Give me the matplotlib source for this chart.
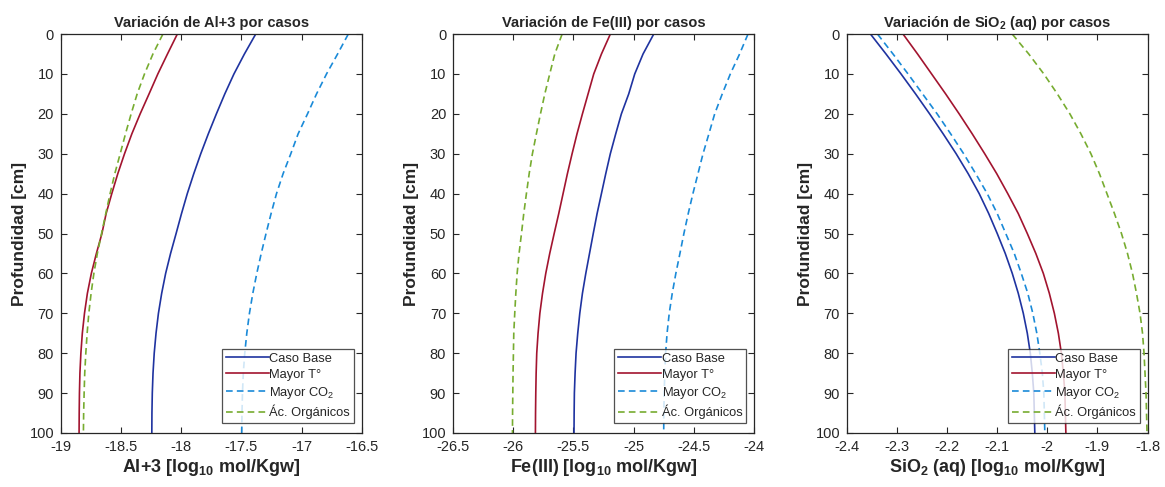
import numpy as np
import matplotlib
matplotlib.use('Agg')
import matplotlib.pyplot as plt

plt.rcParams['font.family'] = ['Liberation Sans', 'DejaVu Sans']
plt.rcParams['mathtext.default'] = 'regular'

# profundidad de muestreo [cm]
depth = [0, 5, 10, 15, 20, 25, 30, 35, 40, 45, 50, 55, 60, 65, 70, 75, 80, 85, 90, 95, 100]

# Al+3 [log10 mol/Kgw]
al_base = [-17.381, -17.475, -17.562, -17.638, -17.708, -17.775, -17.838, -17.896, -17.950, -17.998, -18.043,
           -18.089, -18.130, -18.163, -18.190, -18.210, -18.225, -18.235, -18.241, -18.244, -18.245]
al_temp = [-18.033, -18.115, -18.195, -18.268, -18.342, -18.411, -18.472, -18.528, -18.578, -18.625, -18.660,
           -18.706, -18.748, -18.781, -18.805, -18.823, -18.835, -18.843, -18.847, -18.849, -18.85]
al_co2 = [-16.611, -16.70, -16.792, -16.875, -16.95, -17.028, -17.089, -17.153, -17.208, -17.253, -17.295,
          -17.335, -17.372, -17.405, -17.433, -17.455, -17.472, -17.484, -17.491, -17.495, -17.497]
al_org = [-18.153, -18.236, -18.306, -18.367, -18.417, -18.464, -18.508, -18.553, -18.592, -18.628, -18.663,
          -18.698, -18.727, -18.750, -18.769, -18.783, -18.794, -18.803, -18.808, -18.812, -18.814]

# Fe(III) [log10 mol/Kgw]
fe_base = [-24.832, -24.921, -24.99, -25.04, -25.101, -25.148, -25.193, -25.231, -25.267, -25.303, -25.335,
           -25.366, -25.397, -25.425, -25.447, -25.464, -25.478, -25.486, -25.492, -25.494, -25.495]
fe_temp = [-25.193, -25.267, -25.331, -25.378, -25.425, -25.47, -25.511, -25.55, -25.586, -25.622, -25.660,
           -25.697, -25.730, -25.757, -25.779, -25.794, -25.805, -25.81, -25.813, -25.815, -25.816]
fe_co2 = [-24.048, -24.118, -24.195, -24.262, -24.325, -24.373, -24.422, -24.464, -24.506, -24.545, -24.581,
          -24.614, -24.648, -24.678, -24.703, -24.721, -24.733, -24.740, -24.745, -24.748, -24.749]
fe_org = [-25.594, -25.655, -25.697, -25.738, -25.774, -25.808, -25.841, -25.868, -25.891, -25.913, -25.932,
          -25.952, -25.968, -25.979, -25.988, -25.996, -25.999, -26.002, -26.004, -26.006, -26.007]

# SiO2 (aq) [log10 mol/Kgw]
si_base = [-2.353, -2.322, -2.292, -2.263, -2.235, -2.208, -2.182, -2.158, -2.136, -2.117, -2.100,
           -2.084, -2.070, -2.058, -2.048, -2.040, -2.034, -2.030, -2.027, -2.026, -2.025]
si_temp = [-2.288, -2.259, -2.231, -2.203, -2.176, -2.150, -2.125, -2.101, -2.079, -2.058, -2.040,
           -2.023, -2.008, -1.996, -1.986, -1.978, -1.972, -1.968, -1.965, -1.964, -1.963]
si_co2 = [-2.339, -2.308, -2.278, -2.249, -2.220, -2.193, -2.167, -2.143, -2.120, -2.100, -2.083,
          -2.066, -2.052, -2.039, -2.029, -2.021, -2.015, -2.010, -2.007, -2.006, -2.005]
si_org = [-2.070, -2.037, -2.007, -1.980, -1.955, -1.933, -1.913, -1.896, -1.881, -1.866, -1.852,
          -1.840, -1.830, -1.822, -1.815, -1.810, -1.807, -1.805, -1.803, -1.802, -1.801]

labels = ['Caso Base', 'Mayor T°', 'Mayor CO$_2$', 'Ác. Orgánicos']
colors = ['#1f33a0', '#a2142f', '#1a8ad8', '#77ac30']
styles = ['-', '-', '--', '--']

panels = [
    ('Variación de Al+3 por casos', 'Al+3 [log$_{10}$ mol/Kgw]',
     [al_base, al_temp, al_co2, al_org], (-19, -16.5), np.arange(-19, -16.4, 0.5)),
    ('Variación de Fe(III) por casos', 'Fe(III) [log$_{10}$ mol/Kgw]',
     [fe_base, fe_temp, fe_co2, fe_org], (-26.5, -24), np.arange(-26.5, -23.9, 0.5)),
    ('Variación de SiO$_2$ (aq) por casos', 'SiO$_2$ (aq) [log$_{10}$ mol/Kgw]',
     [si_base, si_temp, si_co2, si_org], (-2.4, -1.8), np.arange(-2.4, -1.79, 0.1)),
]

lefts = [0.0524, 0.389, 0.727]
dark = '#262626'

fig = plt.figure(figsize=(11.65, 4.87), dpi=100)

for left, (title, xlabel, series, xlim, xticks) in zip(lefts, panels):
    ax = fig.add_axes([left, 0.111, 0.258, 0.819])
    for vals, lab, col, ls in zip(series, labels, colors, styles):
        line, = ax.plot(vals, depth, ls, color=col, lw=1.2, label=lab)
        if ls == '--':
            line.set_dashes([4, 2.5])
    ax.set_xlim(*xlim)
    ax.set_ylim(100, 0)
    ax.set_xticks(xticks)
    ax.set_xticklabels(['%g' % round(t, 2) for t in xticks])
    ax.set_yticks(np.arange(0, 101, 10))
    ax.tick_params(direction='in', top=True, right=True, length=4, width=0.8,
                   labelsize=10.5, colors=dark, pad=5)
    for sp in ax.spines.values():
        sp.set_color(dark)
        sp.set_linewidth(0.9)
    ax.set_title(title, fontsize=10.5, fontweight='bold', color=dark, pad=5)
    ax.set_xlabel(xlabel, fontsize=13, fontweight='bold', color=dark, labelpad=2)
    ax.set_ylabel('Profundidad [cm]', fontsize=12.5, fontweight='bold', color=dark, labelpad=2)
    leg = ax.legend(loc='lower right', bbox_to_anchor=(0.975, 0.025), fontsize=9.3,
                    frameon=True, fancybox=False, borderpad=0.3, labelspacing=0.3,
                    handlelength=3.3, handletextpad=0.05, borderaxespad=0)
    leg.get_frame().set_edgecolor(dark)
    leg.get_frame().set_linewidth(0.9)
    for t in leg.get_texts():
        t.set_color(dark)

fig.savefig('out.png', dpi=100)
